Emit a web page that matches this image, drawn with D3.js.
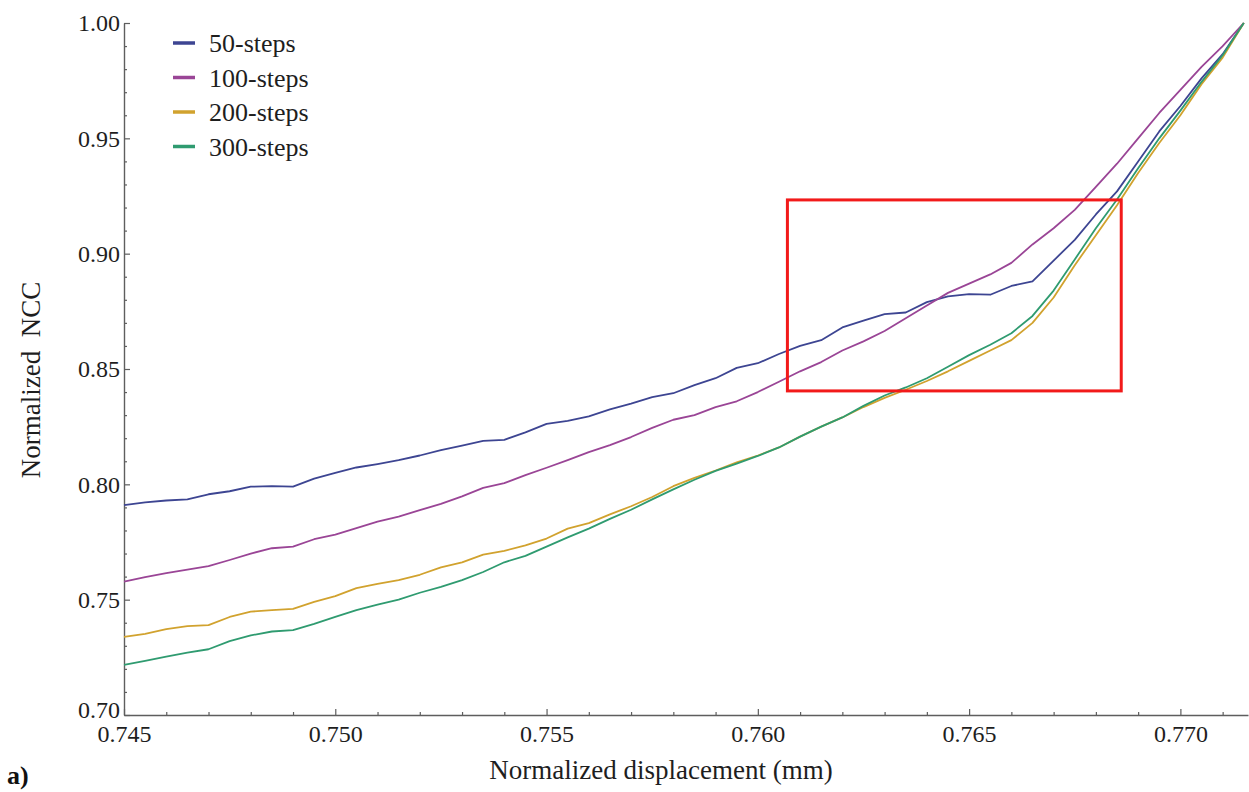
<!DOCTYPE html>
<html>
<head>
<meta charset="utf-8">
<script src="https://cdn.jsdelivr.net/npm/d3@7"></script>
<style>
  html, body { margin: 0; padding: 0; background: #ffffff; }
  svg { display: block; }
  text { font-family: "Liberation Serif", "Times New Roman", serif; }
</style>
</head>
<body>
<svg id="chart" width="1249" height="792"></svg>
<script>
// ---- data ----
const displacement = [
  0.7450, 0.7455, 0.7460, 0.7465, 0.7470, 0.7475, 0.7480, 0.7485, 0.7490, 0.7495,
  0.7500, 0.7505, 0.7510, 0.7515, 0.7520, 0.7525, 0.7530, 0.7535, 0.7540, 0.7545,
  0.7550, 0.7555, 0.7560, 0.7565, 0.7570, 0.7575, 0.7580, 0.7585, 0.7590, 0.7595,
  0.7600, 0.7605, 0.7610, 0.7615, 0.7620, 0.7625, 0.7630, 0.7635, 0.7640, 0.7645,
  0.7650, 0.7655, 0.7660, 0.7665, 0.7670, 0.7675, 0.7680, 0.7685, 0.7690, 0.7695,
  0.7700, 0.7705, 0.7710, 0.7715
];
const steps50 = [
  0.7910, 0.7922, 0.7930, 0.7935, 0.7957, 0.7970, 0.7990, 0.7992, 0.7990, 0.8025,
  0.8050, 0.8073, 0.8088, 0.8105, 0.8125, 0.8148, 0.8168, 0.8188, 0.8193, 0.8225,
  0.8262, 0.8275, 0.8295, 0.8325, 0.8350, 0.8378, 0.8395, 0.8430, 0.8460, 0.8505,
  0.8525, 0.8565, 0.8600, 0.8625, 0.8680, 0.8710, 0.8738, 0.8745, 0.8790, 0.8815,
  0.8825, 0.8822, 0.8860, 0.8880, 0.8970, 0.9060, 0.9170, 0.9270, 0.9400, 0.9530,
  0.9640, 0.9760, 0.9865, 1.0000
];
const steps100 = [
  0.7578, 0.7598, 0.7615, 0.7630, 0.7645, 0.7672, 0.7700, 0.7723, 0.7730, 0.7762,
  0.7782, 0.7810, 0.7838, 0.7860, 0.7888, 0.7915, 0.7948, 0.7985, 0.8005, 0.8040,
  0.8072, 0.8105, 0.8140, 0.8170, 0.8205, 0.8245, 0.8280, 0.8300, 0.8335, 0.8360,
  0.8400, 0.8445, 0.8490, 0.8530, 0.8580, 0.8620, 0.8665, 0.8720, 0.8775, 0.8830,
  0.8870, 0.8910, 0.8960, 0.9040, 0.9110, 0.9190, 0.9290, 0.9390, 0.9500, 0.9610,
  0.9710, 0.9810, 0.9900, 1.0000
];
const steps200 = [
  0.7339, 0.7352, 0.7372, 0.7385, 0.7390, 0.7425, 0.7448, 0.7455, 0.7460, 0.7490,
  0.7515, 0.7550, 0.7568, 0.7585, 0.7608, 0.7640, 0.7662, 0.7695, 0.7712, 0.7735,
  0.7765, 0.7808, 0.7832, 0.7870, 0.7905, 0.7945, 0.7992, 0.8028, 0.8060, 0.8095,
  0.8125, 0.8160, 0.8207, 0.8250, 0.8290, 0.8335, 0.8375, 0.8410, 0.8448, 0.8490,
  0.8535, 0.8580, 0.8625, 0.8700, 0.8810, 0.8950, 0.9080, 0.9210, 0.9350, 0.9480,
  0.9600, 0.9735, 0.9850, 1.0000
];
const steps300 = [
  0.7217, 0.7235, 0.7253, 0.7270, 0.7285, 0.7320, 0.7345, 0.7362, 0.7368, 0.7395,
  0.7425, 0.7455, 0.7478, 0.7500, 0.7530, 0.7555, 0.7585, 0.7620, 0.7662, 0.7690,
  0.7730, 0.7770, 0.7808, 0.7850, 0.7890, 0.7935, 0.7978, 0.8020, 0.8058, 0.8090,
  0.8123, 0.8160, 0.8207, 0.8250, 0.8290, 0.8340, 0.8385, 0.8420, 0.8460, 0.8510,
  0.8560, 0.8605, 0.8655, 0.8730, 0.8840, 0.8975, 0.9110, 0.9235, 0.9370, 0.9500,
  0.9620, 0.9745, 0.9860, 1.0000
];
const seriesNames = ["50-steps", "100-steps", "200-steps", "300-steps"];
const seriesColors = ["#3d4592", "#9a4596", "#d1a22e", "#2f9b70"];
const xTicks = [0.745, 0.750, 0.755, 0.760, 0.765, 0.770];
const yTicks = [0.70, 0.75, 0.80, 0.85, 0.90, 0.95, 1.00];
const zoomBoxX = [0.7607, 0.7686];
const zoomBoxY = [0.8405, 0.9233];
const xTitle = "Normalized displacement (mm)";
const yTitle = "Normalized\u00a0\u00a0NCC";
const panelLabel = "a)";

// ---- layout ----
const svg = d3.select("#chart");
const x = d3.scaleLinear().domain([0.745, 0.7716]).range([124, 1248]);
const y = d3.scaleLinear().domain([0.70, 1.00]).range([715, 23]);

const axisColor = "#5e5e5e";
const labelColor = "#1e1e1e";

// minor ticks
const xMinor = d3.range(0.746, 0.7716, 0.001).filter(v => !xTicks.some(t => Math.abs(t - v) < 1e-6));
const yMinor = d3.range(0.71, 1.0, 0.01).filter(v => !yTicks.some(t => Math.abs(t - v) < 1e-6));

svg.append("g").attr("transform", `translate(0,${y(0.70)})`)
  .call(d3.axisBottom(x).tickValues(xTicks).tickFormat(d3.format(".3f"))
        .tickSize(-6).tickSizeOuter(0).tickPadding(10));
svg.append("g").attr("transform", `translate(0,${y(0.70)})`)
  .call(d3.axisBottom(x).tickValues(xMinor).tickFormat("").tickSize(-3).tickSizeOuter(0))
  .call(g => g.select(".domain").remove());

const gy = svg.append("g").attr("transform", `translate(${x(0.745)},0)`)
  .call(d3.axisLeft(y).tickValues(yTicks).tickFormat(d3.format(".2f"))
        .tickSize(-6).tickSizeOuter(0).tickPadding(4));
svg.append("g").attr("transform", `translate(${x(0.745)},0)`)
  .call(d3.axisLeft(y).tickValues(yMinor).tickFormat("").tickSize(-3).tickSizeOuter(0))
  .call(g => g.select(".domain").remove());

svg.selectAll(".domain").attr("stroke", axisColor).attr("stroke-width", 1.4);
svg.selectAll(".tick line").attr("stroke", axisColor).attr("stroke-width", 1.2);
svg.selectAll(".tick text")
  .attr("font-family", "Liberation Serif, Times New Roman, serif")
  .attr("font-size", 24).attr("fill", labelColor);
// lift the bottom y label slightly so it does not collide with the first x label
gy.selectAll(".tick").filter(d => Math.abs(d - 0.70) < 1e-9).select("text").attr("dy", "0.12em");

// series lines
const allSeries = [steps50, steps100, steps200, steps300];
const line = d3.line().x((d, i) => x(displacement[i])).y(d => y(d));
allSeries.forEach((vals, k) => {
  svg.append("path").datum(vals)
    .attr("fill", "none")
    .attr("stroke", seriesColors[k])
    .attr("stroke-width", 1.8)
    .attr("stroke-linejoin", "round")
    .attr("d", line);
});

// red highlight rectangle
svg.append("rect")
  .attr("x", x(zoomBoxX[0])).attr("y", y(zoomBoxY[1]))
  .attr("width", x(zoomBoxX[1]) - x(zoomBoxX[0]))
  .attr("height", y(zoomBoxY[0]) - y(zoomBoxY[1]))
  .attr("fill", "none").attr("stroke", "#f21a1a").attr("stroke-width", 3);

// legend
const legend = svg.append("g");
seriesNames.forEach((name, k) => {
  const ly = 43 + k * 34.5;
  legend.append("line").attr("x1", 173).attr("x2", 195).attr("y1", ly).attr("y2", ly)
    .attr("stroke", seriesColors[k]).attr("stroke-width", 3.5);
  legend.append("text").attr("x", 209).attr("y", ly).attr("dy", "0.35em")
    .attr("font-size", 26).attr("fill", labelColor).text(name);
});

// axis titles
svg.append("text").attr("x", 661).attr("y", 779).attr("text-anchor", "middle")
  .attr("font-size", 27).attr("fill", labelColor).text(xTitle);
svg.append("text").attr("transform", "translate(40,380) rotate(-90)")
  .attr("text-anchor", "middle").attr("font-size", 27).attr("fill", labelColor).text(yTitle);
svg.append("text").attr("x", 7).attr("y", 784).attr("font-size", 26)
  .attr("font-weight", "bold").attr("fill", "#111").text(panelLabel);
</script>
</body>
</html>
